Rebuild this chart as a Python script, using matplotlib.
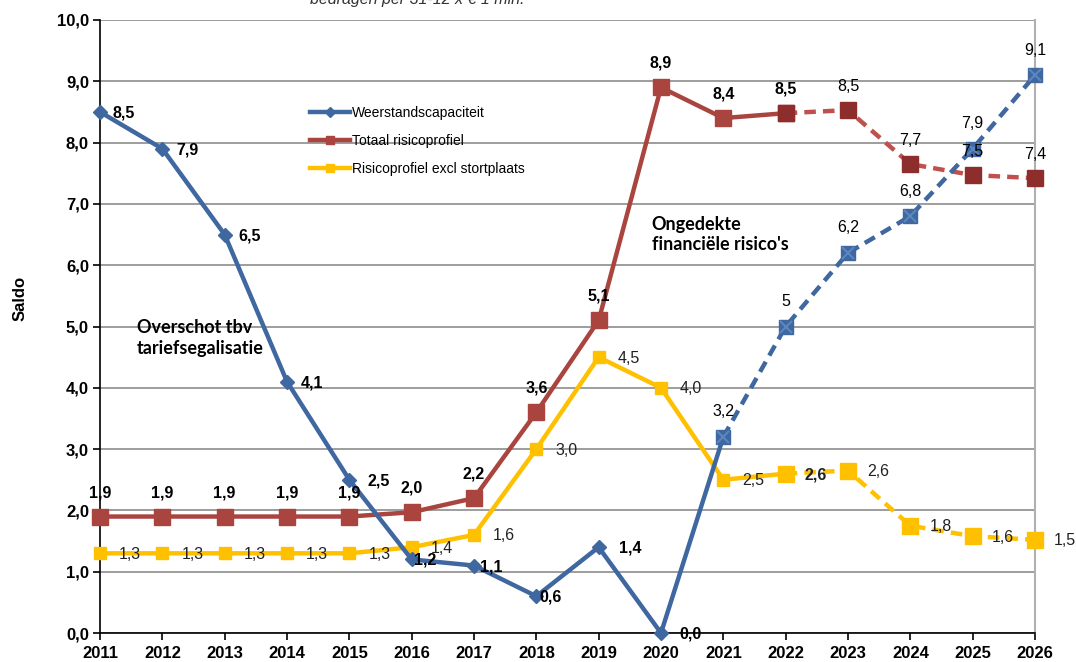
import matplotlib
matplotlib.use("Agg")
import matplotlib.pyplot as plt
from matplotlib.lines import Line2D

years = list(range(2011, 2027))
weerstand = [8.5, 7.9, 6.5, 4.1, 2.5, 1.2, 1.1, 0.6, 1.4, 0.0, 3.2, 5.0, 6.2, 6.8, 7.9, 9.1]
weerstand_lbl = ["8,5", "7,9", "6,5", "4,1", "2,5", "1,2", "1,1", "0,6", "1,4", "0,0",
                 "3,2", "5", "6,2", "6,8", "7,9", "9,1"]
totaal = [1.9, 1.9, 1.9, 1.9, 1.9, 1.97, 2.2, 3.6, 5.1, 8.9, 8.4, 8.48, 8.53, 7.65, 7.47, 7.42]
totaal_lbl = ["1,9", "1,9", "1,9", "1,9", "1,9", "2,0", "2,2", "3,6", "5,1", "8,9",
              "8,4", "8,5", "8,5", "7,7", "7,5", "7,4"]
excl = [1.3, 1.3, 1.3, 1.3, 1.3, 1.4, 1.6, 3.0, 4.5, 4.0, 2.5, 2.6, 2.65, 1.75, 1.58, 1.52]
excl_lbl = ["1,3", "1,3", "1,3", "1,3", "1,3", "1,4", "1,6", "3,0", "4,5", "4,0",
            "2,5", "2,6", "2,6", "1,8", "1,6", "1,5"]
yticks = [0, 1, 2, 3, 4, 5, 6, 7, 8, 9, 10]
ytick_lbl = ["0,0", "1,0", "2,0", "3,0", "4,0", "5,0", "6,0", "7,0", "8,0", "9,0", "10,0"]

BLUE = "#3F67A0"
RED = "#A9443F"
DRED = "#8E2E2C"
YEL = "#FFC000"
FONT = "Liberation Sans"

W, H = 1076, 662
fig = plt.figure(figsize=(W / 100, H / 100), dpi=100)
ax = fig.add_axes([100 / W, 1 - 633 / H, 935 / W, 613 / H])
ax.set_xlim(2011, 2026)
ax.set_ylim(0, 10)

# grid
ax.set_yticks(yticks)
ax.set_yticklabels(ytick_lbl, fontfamily=FONT, fontweight="bold", fontsize=12)
ax.set_xticks(years)
ax.set_xticklabels([str(y) for y in years], fontfamily=FONT, fontweight="bold", fontsize=12)
ax.yaxis.grid(True, color="#8c8c8c", linewidth=1.2, zorder=0)
ax.set_axisbelow(True)
ax.tick_params(axis="both", direction="out", length=5, width=1.2, color="black", pad=3)
ax.tick_params(axis="x", pad=4)
ax.spines["top"].set_visible(False)
ax.spines["right"].set_color("#b0b0b0")
ax.spines["right"].set_linewidth(1.5)
ax.spines["left"].set_linewidth(1.2)
ax.spines["bottom"].set_linewidth(1.2)

LW = 3.2
# Weerstandscapaciteit: actual 2011-2021, forecast 2021-2026
ax.plot(years[:11], weerstand[:11], color=BLUE, lw=LW, marker="D", ms=7.5,
        clip_on=False, zorder=5)
ax.plot(years[10:], weerstand[10:], color=BLUE, lw=LW, ls=(0, (2.6, 1.6)), marker="s", ms=10,
        clip_on=False, zorder=5)
ax.plot(years[10:], weerstand[10:], ls="none", marker="x", ms=9, mew=1.5, color="#5d86c0",
        clip_on=False, zorder=6)

# Totaal risicoprofiel
ax.plot(years[:12], totaal[:12], color=RED, lw=LW, marker="s", ms=11, clip_on=False, zorder=4)
ax.plot(years[11:], totaal[11:], color="#C0504D", lw=LW, ls=(0, (2.6, 1.6)), marker="s", ms=11,
        mfc=DRED, mec=DRED, clip_on=False, zorder=4)

# Risicoprofiel excl stortplaats
ax.plot(years[:12], excl[:12], color=YEL, lw=LW, marker="s", ms=8, clip_on=False, zorder=3)
ax.plot(years[11:], excl[11:], color=YEL, lw=LW, ls=(0, (2.6, 1.6)), marker="s", ms=12,
        clip_on=False, zorder=3)

PX = 0.72  # points per pixel
lab = dict(fontfamily=FONT, fontsize=11.5, textcoords="offset points", zorder=8,
           annotation_clip=False)

# blue labels
bdx = [12, 14, 14, 14, 18, 2, 6, 3, 20, 18]
for i in range(16):
    if i < 10:
        ax.annotate(weerstand_lbl[i], (years[i], weerstand[i]), xytext=(bdx[i] * PX, -1 * PX),
                    ha="left", va="center", fontweight="bold", **lab)
    else:
        ax.annotate(weerstand_lbl[i], (years[i], weerstand[i]), xytext=(0, 25 * PX),
                    ha="center", va="center", **lab)
# red labels
for i in range(16):
    ax.annotate(totaal_lbl[i], (years[i], totaal[i]), xytext=(0, 24 * PX),
                ha="center", va="center", fontweight="bold" if i < 12 else "normal", **lab)
# yellow labels
for i in range(16):
    ax.annotate(excl_lbl[i], (years[i], excl[i]), xytext=(19 * PX, -1 * PX),
                ha="left", va="center", fontweight="bold" if i == 11 else "normal",
                color="#222222", **lab)

# annotations
ax.text(2011.59, 4.81, "Overschot tbv\ntariefsegalisatie", fontfamily="Lato",
        fontweight="bold", fontsize=13, ha="left", va="center", linespacing=1.25, zorder=9)
ax.text(2019.85, 6.5, "Ongedekte\nfinanciële risico's", fontfamily="Lato",
        fontweight="bold", fontsize=13, ha="left", va="center", linespacing=1.25, zorder=9)

ax.set_ylabel("Saldo", fontfamily=FONT, fontweight="bold", fontsize=12)
ax.yaxis.set_label_coords(-72 / 935, 0.545)

# cropped subtitle at the very top (cut off in the reference as well)
fig.text(310 / W, 1 - 4 / H, "bedragen per 31-12 x € 1 mln.", fontfamily=FONT,
         fontstyle="italic", fontsize=11.5, ha="left", va="baseline", color="#333333")

handles = [
    Line2D([], [], color=BLUE, lw=3.2, marker="D", ms=5),
    Line2D([], [], color=RED, lw=3.2, marker="s", ms=6),
    Line2D([], [], color=YEL, lw=3.2, marker="s", ms=6),
]
labels = ["Weerstandscapaciteit", "Totaal risicoprofiel", "Risicoprofiel excl stortplaats"]
leg = fig.legend(handles, labels, loc="upper left", bbox_to_anchor=(303 / W, 1 - 99 / H),
                 frameon=False, prop={"family": FONT, "size": 10}, handlelength=2.9,
                 handletextpad=0.15, labelspacing=1.0, borderpad=0, numpoints=1)

fig.savefig("out.png", dpi=100)
